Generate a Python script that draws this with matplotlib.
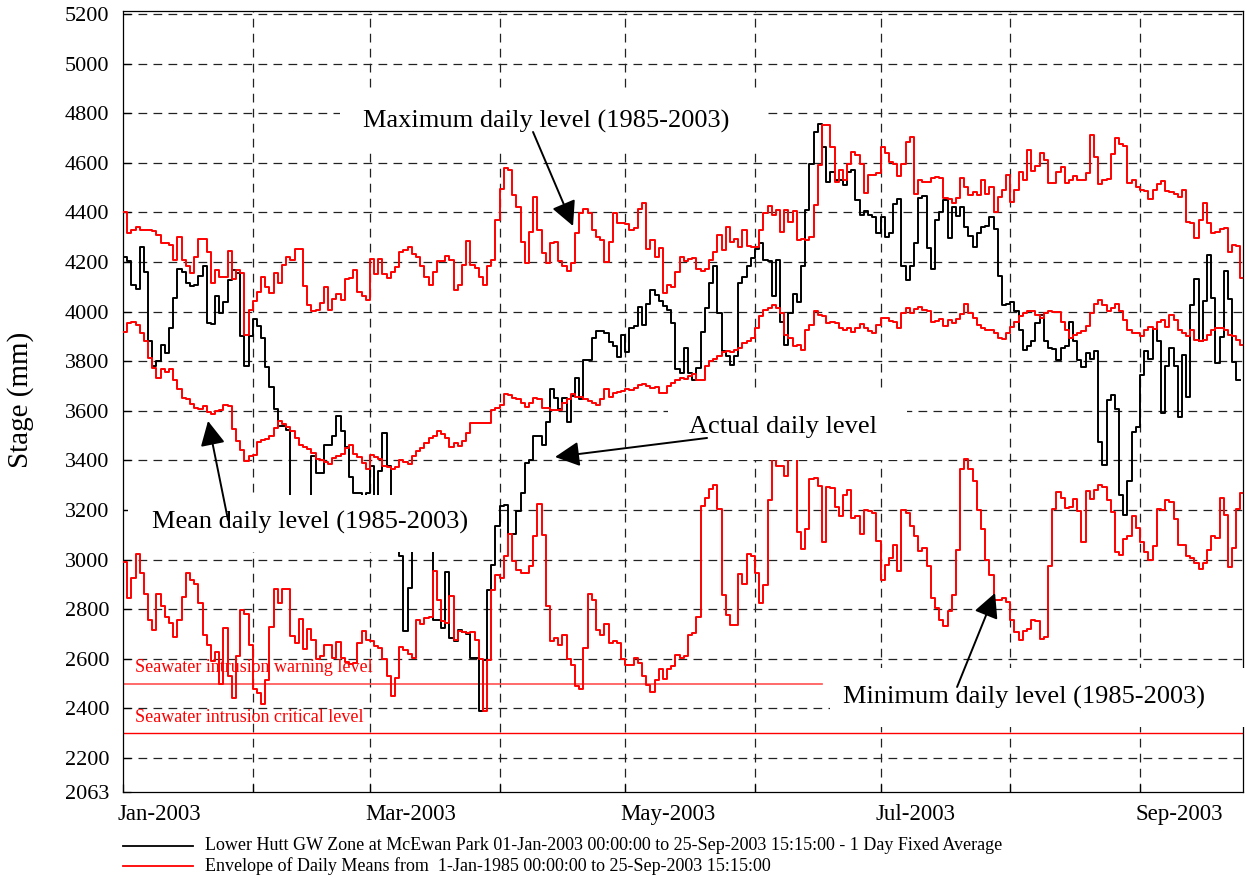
import numpy as np
import matplotlib
matplotlib.use('Agg')
import matplotlib.pyplot as plt
from matplotlib.lines import Line2D
from matplotlib.patches import Rectangle
import matplotlib.transforms as mtransforms

plt.rcParams['font.family'] = ['Liberation Serif', 'DejaVu Serif']

# ---------------- data (daily values, day 0 = 1 Jan 2003) ----------------
actual = [
    4219, 4202, 4108, 4091, 4262, 4161, 3880, 3780, 3800, 3867,
    3833, 3934, 4054, 4171, 4161, 4115, 4104, 4108, 4144, 4182,
    3956, 3951, 4064, 3994, 4037, 4128, 4166, 4157, 3903, 3780,
    3903, 3970, 3940, 3893, 3777, 3696, 3608, 3538, 3538, 3522,
    3180, 3150, 3150, 3200, 3230, 3416, 3349, 3349, 3463, 3463,
    3500, 3578, 3520, 3456, 3335, 3268, 3268, 3200, 3268, 3376,
    3220, 3356, 3512, 3376, 3150, 3100, 3016, 2711, 2885, 3100,
    3150, 3100, 3050, 3050,
    2758, 2758, 2724, 2952, 2684, 2670,
    2717, 2710, 2701, 2603, 2603, 2388, 2596, 2879, 2979, 3134,
    3215, 3222, 3104, 3104, 3194, 3268, 3389, 3403, 3497, 3497,
    3463,
    3554, 3686, 3652, 3608, 3652, 3554, 3659, 3733, 3646,
    3804, 3804, 3893, 3920, 3920, 3914, 3876, 3860, 3817, 3907,
    3836, 3934, 3943, 4018, 3947, 4031, 4088, 4068, 4041, 4021,
    4005, 3956, 3769, 3753, 3853, 3753, 3726, 3773, 3916, 4014,
    4115, 4182, 3994, 3840, 3820, 3786, 3820, 4115, 4139, 4182,
    4215, 4251, 4275, 4208, 4202, 4061, 4208, 3960, 3867, 3994,
    4072, 4037, 4182, 4409, 4594, 4724, 4755, 4664, 4523,
    4563, 4530, 4530, 4510, 4563, 4570, 4450, 4389, 4407, 4389, 4383,
    4316, 4383, 4300, 4316, 4434, 4452, 4182, 4128, 4182, 4275,
    4460, 4466, 4255, 4171, 4369, 4403, 4450, 4295, 4420, 4385,
    4420, 4342, 4305, 4259, 4316, 4340, 4345, 4383, 4332, 4144,
    4027, 4031, 4037, 4001, 3924, 3844, 3860, 3880, 3954, 3987,
    3880, 3853, 3849, 3806, 3853, 3860, 3960, 3880, 3806, 3777,
    3833, 3809, 3840,
    3475, 3380, 3643, 3664, 3606, 3260, 3180, 3316, 3515, 3536,
    3743, 3842, 3807, 3930, 3882, 3590, 3779, 3855, 3782, 3574,
    3826, 3654, 4026, 4133, 3882, 4042, 4229, 4053, 3791, 3898,
    4162, 4050, 3798, 3723,
]

env_max = [
    4400, 4316, 4329, 4342, 4330, 4330, 4330, 4325, 4309, 4275,
    4275, 4269, 4208, 4300, 4208, 4182, 4155, 4222, 4291, 4291,
    4239, 4115, 4166, 4141, 4141, 4246, 4132, 4166, 4157, 3907,
    4007, 4041, 4081, 4139, 4101, 4074, 4157, 4117, 4188, 4219,
    4210, 4251, 4251, 4104, 4027, 4001, 4005, 4034, 4099, 4007,
    4050, 4072, 4045, 4131, 4135, 4166, 4077, 4061, 4048, 4211,
    4152, 4211, 4152, 4135, 4160, 4181, 4242, 4248, 4262, 4232,
    4222, 4182, 4141, 4108, 4161, 4202, 4202, 4224, 4208, 4088,
    4108, 4188, 4286, 4188, 4175, 4141, 4108, 4182, 4208, 4369,
    4496, 4577, 4570, 4470, 4423, 4282, 4195, 4322, 4463, 4329,
    4235, 4195, 4275, 4282, 4202, 4182, 4165, 4195, 4316, 4396,
    4412, 4396, 4329, 4302, 4289, 4198, 4282, 4396, 4358, 4356,
    4353, 4329, 4336, 4412, 4439, 4251, 4289, 4222, 4255, 4074,
    4108, 4098, 4161, 4219, 4202, 4211, 4215, 4171, 4165, 4171,
    4208, 4242, 4309, 4249, 4342, 4282, 4291, 4262, 4329, 4265,
    4262, 4262, 4329, 4396, 4427, 4389, 4409, 4322, 4409, 4362,
    4407, 4289, 4291, 4289, 4302, 4429, 4590, 4751, 4751, 4664,
    4523, 4570, 4530, 4597, 4644, 4630, 4597, 4479, 4550, 4550,
    4557, 4664, 4640, 4604, 4597, 4546, 4597, 4684, 4704, 4474,
    4530, 4523, 4523, 4537, 4543, 4537, 4456, 4452, 4439, 4460,
    4537, 4503, 4470, 4483, 4470, 4530, 4476, 4503, 4403, 4463,
    4492, 4550, 4443, 4492, 4563, 4530, 4651, 4568, 4588, 4640,
    4613, 4519, 4519, 4563, 4584, 4519, 4530, 4546, 4530, 4530,
    4557, 4711, 4624, 4513, 4530, 4533, 4637, 4700, 4677, 4668,
    4519, 4530, 4501, 4490, 4487, 4452, 4490, 4513, 4526, 4487,
    4483, 4476, 4463, 4492, 4362, 4358, 4298, 4369, 4439, 4356,
    4316, 4322, 4334, 4338, 4242, 4269, 4265, 4135,
]

env_mean = [
    3916, 3956, 3960, 3947, 3914, 3880, 3813, 3773, 3733, 3769,
    3755, 3769, 3726, 3686, 3652, 3648, 3629, 3612, 3608, 3621,
    3595, 3589, 3599, 3605, 3625, 3619, 3525, 3477, 3443, 3396,
    3419, 3423, 3473, 3481, 3486, 3497, 3530, 3558, 3545, 3536,
    3517, 3490, 3463, 3456, 3446, 3430, 3405, 3400, 3392, 3385,
    3409, 3419, 3427, 3450, 3463, 3427, 3413, 3389, 3365, 3423,
    3413, 3405, 3378, 3373, 3365, 3373, 3400, 3392, 3387, 3416,
    3436,
    3450, 3470, 3490, 3500, 3520, 3505, 3490, 3455, 3470, 3460, 3480,
    3512, 3552, 3549, 3549, 3549, 3552, 3605, 3612,
    3625, 3666, 3662, 3652, 3646, 3632, 3616, 3632, 3652, 3646,
    3612, 3612, 3603, 3603, 3605, 3632, 3646, 3666, 3656, 3656,
    3646, 3639, 3632, 3625, 3648, 3686, 3656, 3670, 3675, 3679,
    3688, 3683, 3692, 3706, 3710, 3702, 3692, 3695, 3672, 3672,
    3699, 3713, 3726, 3733, 3729, 3742, 3750, 3726, 3726, 3780,
    3800, 3809, 3820, 3836, 3840, 3836, 3844, 3853, 3873, 3880,
    3893, 3934, 3981, 4007, 4014, 4027, 4014, 3994, 3907, 3893,
    3860, 3867, 3847, 3927, 3947, 4001, 3987, 3981, 3956,
    3960, 3956, 3934, 3924, 3934, 3916, 3934, 3951, 3934, 3920,
    3914, 3947, 3974, 3974, 3964, 3960, 3934, 3994, 4014, 3994,
    4010, 4018, 4007, 4001, 3960, 3963, 3970, 3940, 3967, 3956,
    3970, 3991, 4031, 3994, 3974, 3947, 3934, 3927, 3924, 3914,
    3893, 3889, 3914, 3938, 3960, 3981, 3994, 4001, 4001, 3987,
    3974, 3994, 4001, 3997, 3997, 3960, 3927, 3893, 3907, 3914,
    3920, 3943, 3994, 4031, 4048, 4027, 4001, 4014, 4031, 4001,
    3967, 3927, 3914, 3914, 3903, 3927, 3938, 3930, 3960, 3967,
    3938, 3987, 3967, 3927, 3914, 3903, 3927, 3884, 3880, 3887,
    3907, 3927, 3934, 3934, 3924, 3907, 3900, 3884, 3867,
]

env_min = [
    2989, 2845, 2926, 3024, 2946, 2862, 2758, 2717, 2862, 2814,
    2767, 2744, 2688, 2755, 2849, 2946, 2919, 2903, 2827, 2697,
    2657, 2590, 2626, 2500, 2724, 2529, 2442, 2610, 2798, 2782,
    2657, 2478, 2462, 2419, 2516, 2728, 2881, 2825, 2881, 2881,
    2693, 2663, 2760, 2639, 2720, 2677, 2599, 2610, 2657, 2657,
    2603, 2666, 2603, 2586, 2580, 2583, 2663, 2711, 2674, 2670,
    2650, 2643, 2599, 2532, 2451, 2522, 2647, 2634, 2620, 2603,
    2758,
    2741, 2764, 2768, 2956, 2836, 2751, 2745, 2852, 2677,
    2711, 2707, 2704, 2707, 2674, 2599, 2388, 2596, 2876, 2939,
    2926, 3013, 3104, 2993, 2959, 2946, 2946, 2975, 3094, 3225,
    3100, 2811, 2670, 2684, 2657, 2697, 2599, 2576, 2491, 2478,
    2643, 2862, 2836, 2717, 2697, 2741, 2663, 2670, 2663, 2599,
    2576, 2576, 2603, 2583, 2532, 2495, 2465, 2513, 2559, 2518,
    2559, 2572, 2616, 2603, 2612, 2697, 2704, 2768, 3217, 3248,
    3284, 3302, 3204, 2858, 2778, 2737, 2737, 2943, 2903, 3024,
    3016, 2948, 2825, 2899, 3241, 3460, 3376, 3376, 3338, 3460,
    3460, 3110, 3043, 3123, 3325, 3329, 3295, 3073, 3292,
    3288, 3212, 3177, 3262, 3282, 3167, 3177, 3104, 3201, 3194,
    3188, 3077, 2919, 2979, 3006, 3060, 2956, 3201, 3188, 3137,
    3094, 3033, 3047, 2973, 2845, 2805, 2755, 2731, 2791, 2858,
    3040, 3365, 3405, 3365, 3315, 3201, 3123, 2997, 2939, 2836,
    2839, 2845, 2831, 2758, 2707, 2677, 2711, 2720, 2755, 2751,
    2680, 2688, 2975, 3204, 3271, 3248, 3208, 3212, 3244, 3194,
    3069, 3275, 3244, 3279, 3302, 3292, 3241, 3190, 3029, 3020,
    3083, 3096, 3174, 3127, 3073, 3029, 3000, 3056, 3204, 3201,
    3241, 3231, 3163, 3060, 3060, 3013, 3006, 2986, 2962, 2986,
    3037, 3094, 3087, 3248, 3181, 2970, 3047, 3204, 3268,
]

month_starts = [0, 31, 59, 90, 120, 151, 181, 212, 243]
label_days = [0, 59, 120, 181, 243]
label_texts = ['Jan-2003', 'Mar-2003', 'May-2003', 'Jul-2003', 'Sep-2003']
y_ticks = [2063, 2200, 2400, 2600, 2800, 3000, 3200, 3400, 3600, 3800,
           4000, 4200, 4400, 4600, 4800, 5000, 5200]
grid_y = y_ticks[1:]
warning_level = 2500
critical_level = 2300
legend_texts = [
    'Lower Hutt GW Zone at McEwan Park 01-Jan-2003 00:00:00 to 25-Sep-2003 15:15:00 - 1 Day Fixed Average',
    'Envelope of Daily Means from  1-Jan-1985 00:00:00 to 25-Sep-2003 15:15:00',
]

RED = '#ff0000'

# ---------------- figure ----------------
W, H = 1251, 877
fig = plt.figure(figsize=(W / 100, H / 100), dpi=100)
ax = fig.add_axes([123 / W, 1 - 792 / H, (1243 - 123) / W, (792 - 11) / H])
ax.set_xlim(0, 267.6)
ax.set_ylim(2063, 5212)


def px_to_data(px, py):
    return (px - 123) / 4.185, 5200 - (py - 14) * 4.032


def draw_step(vals, **kw):
    d = np.arange(len(vals) + 1)
    v = list(vals) + [vals[-1]]
    ax.step(d, v, where='post', **kw)


# grid
for gy in grid_y:
    ax.axhline(gy, color='#222222', lw=0.9, ls=(0, (7, 5)), zorder=1)
for mx in month_starts[1:]:
    ax.axvline(mx, color='#222222', lw=0.9, ls=(0, (7, 5)), zorder=1)

# reference levels
ax.plot([0, px_to_data(822, 0)[0]], [warning_level] * 2, color='#ff5050', lw=1.2, zorder=2)
ax.axhline(critical_level, color=RED, lw=1.0, zorder=2)

# series
draw_step(actual, color='black', lw=1.4, zorder=3)
draw_step(env_min, color=RED, lw=1.4, zorder=4)
draw_step(env_mean, color=RED, lw=1.4, zorder=4)
draw_step(env_max, color=RED, lw=1.4, zorder=4)

# axes styling
for s in ax.spines.values():
    s.set_linewidth(0.9)
ax.set_yticks(y_ticks)
ax.set_yticklabels([str(t) for t in y_ticks])
ax.set_xticks(month_starts)
ax.set_xticklabels([])
ax.tick_params(axis='y', direction='in', length=6, width=0.9, pad=10, labelsize=16)
ax.tick_params(axis='x', direction='in', length=6, width=0.9)

off = mtransforms.ScaledTranslation(-5 / 100, 0, fig.dpi_scale_trans)
btrans = mtransforms.blended_transform_factory(ax.transData, ax.transAxes) + off
for d, t in zip(label_days, label_texts):
    ax.text(d, -0.0294, t, transform=btrans, ha='left', va='center', fontsize=16.5)

fig.text(21 / W, 1 - 400 / H, 'Stage (mm)', rotation=90, ha='center', va='center', fontsize=21)

# level labels
x0, yw = px_to_data(135, 668)
_, yc = px_to_data(135, 718)
ax.text(x0, yw, 'Seawater intrusion warning level', color=RED, fontsize=13, ha='left', va='center', zorder=5)
ax.text(x0, yc, 'Seawater intrusion critical level', color=RED, fontsize=13, ha='left', va='center', zorder=5)

# annotation boxes (white backgrounds that hide lines)
boxes = [(340, 88, 768, 152), (668, 392, 907, 460), (128, 495, 493, 552), (830, 668, 1247, 727)]
for (l, t, r, b) in boxes:
    xl, yt = px_to_data(l, t)
    xr, yb = px_to_data(r, b)
    ax.add_patch(Rectangle((xl, yb), xr - xl, yt - yb, facecolor='white', edgecolor='none',
                           zorder=9, clip_on=False))

annots = [
    ('Maximum daily level (1985-2003)', (546, 121), (533, 132), (573, 226)),
    ('Actual daily level', (783, 427), (707, 438), (555, 457)),
    ('Mean daily level (1985-2003)', (310, 522), (228, 520), (208, 421)),
    ('Minimum daily level (1985-2003)', (1024, 697), (957, 687), (995, 593)),
]
for text, tpos, tail, head in annots:
    ax.text(*px_to_data(*tpos), text, ha='center', va='center', fontsize=19, zorder=11)
    ax.annotate('', xy=px_to_data(*head), xytext=px_to_data(*tail),
                arrowprops=dict(arrowstyle='-|>,head_length=0.75,head_width=0.38',
                                color='black', lw=1.4, mutation_scale=20,
                                shrinkA=0, shrinkB=0),
                zorder=12, annotation_clip=False)

# legend
for i, (col, txt) in enumerate(zip(['black', RED], legend_texts)):
    yy = 1 - (846 + 20 * i) / H
    fig.add_artist(Line2D([123 / W, 193 / W], [yy, yy], color=col, lw=1.3))
    fig.text(205 / W, yy, txt, ha='left', va='center', fontsize=13)

fig.savefig('out.png', dpi=100)
